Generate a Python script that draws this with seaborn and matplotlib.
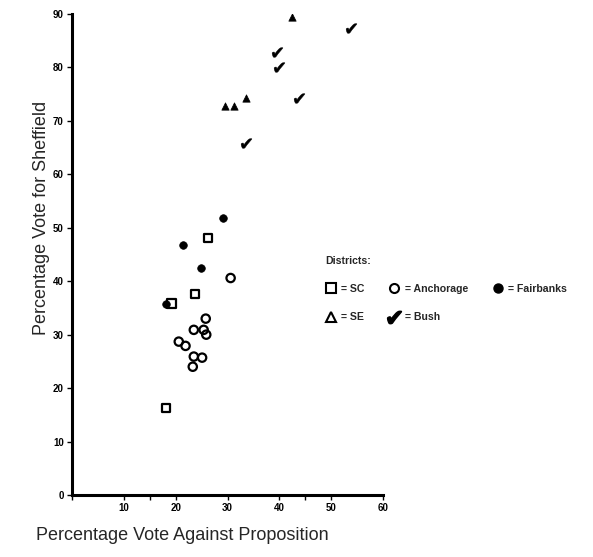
import numpy as np
import pandas as pd
import seaborn as sns
import matplotlib.pyplot as plt
from matplotlib.lines import Line2D

# values
sc_x = [26.2, 23.7, 19.2, 18.1]
sc_y = [48.1, 37.6, 35.8, 16.3]
anc_x = [30.6, 25.8, 23.5, 25.4, 25.9, 20.6, 21.9, 23.5, 25.1, 23.3]
anc_y = [40.6, 33.0, 30.9, 30.9, 30.0, 28.7, 27.9, 25.9, 25.7, 24.0]
fai_x = [29.2, 21.5, 24.8, 18.1]
fai_y = [51.9, 46.8, 42.5, 35.8]
se_x = [42.5, 29.6, 31.2, 33.5]
se_y = [89.5, 72.7, 72.7, 74.2]
bush_x = [53.8, 39.6, 40.0, 43.7, 33.5]
bush_y = [87.3, 82.8, 80.1, 74.2, 65.9]

x_ticks = [0, 10, 20, 30, 40, 50, 60]
y_ticks = [0, 10, 20, 30, 40, 50, 60, 70, 80, 90]

df = pd.concat([
    pd.DataFrame({'x': sc_x, 'y': sc_y, 'district': 'SC'}),
    pd.DataFrame({'x': anc_x, 'y': anc_y, 'district': 'Anchorage'}),
    pd.DataFrame({'x': fai_x, 'y': fai_y, 'district': 'Fairbanks'}),
    pd.DataFrame({'x': se_x, 'y': se_y, 'district': 'SE'}),
    pd.DataFrame({'x': bush_x, 'y': bush_y, 'district': 'Bush'}),
], ignore_index=True)

sns.set_style("white")
plt.rcParams['font.family'] = ['Liberation Sans', 'DejaVu Sans']

fig = plt.figure(figsize=(5.93, 5.57), dpi=100)
ax = fig.add_axes([0.1214, 0.1113, 0.5245, 0.8636])

check = '$\u2714$'
styles = {
    'SC': dict(marker='s', s=38, facecolors='none', edgecolor='black', linewidth=1.6),
    'Anchorage': dict(marker='o', s=36, facecolors='none', edgecolor='black', linewidth=1.6),
    'Fairbanks': dict(marker='o', s=30, color='black', edgecolor='black', linewidth=0.5),
    'SE': dict(marker='^', s=28, color='black', edgecolor='black', linewidth=0.5),
    'Bush': dict(marker=check, s=60, color='black', edgecolor='black', linewidth=0.3),
}
for name, kw in styles.items():
    sub = df[df['district'] == name]
    sns.scatterplot(data=sub, x='x', y='y', ax=ax, legend=False, **kw)

ax.set_xlim(0, 60)
ax.set_ylim(0, 90)
ax.set_xticks(x_ticks)
ax.set_xticklabels([''] + [str(t) for t in x_ticks[1:]])
ax.set_xticks([15, 45], minor=True)
ax.set_yticks(y_ticks)
ax.set_yticklabels([str(t) for t in y_ticks])
sns.despine(ax=ax)
for side in ['left', 'bottom']:
    ax.spines[side].set_linewidth(2.2)
    ax.spines[side].set_color('black')
ax.tick_params(axis='both', which='both', direction='out', length=3.5, width=1,
               labelsize=7, colors='black', pad=2.5, left=True, bottom=True)
for lab in ax.get_xticklabels() + ax.get_yticklabels():
    lab.set_fontweight('bold')

ax.set_xlabel('Percentage Vote Against Proposition', fontsize=13)
ax.set_ylabel('Percentage Vote for Sheffield', fontsize=13)
ax.xaxis.set_label_coords(0.354, -0.066)
ax.yaxis.set_label_coords(-0.071, 0.576)

handles = [
    Line2D([], [], ls='none', marker='s', ms=6.5, mfc='none', mec='black', mew=1.5),
    Line2D([], [], ls='none', marker='^', ms=6.5, mfc='none', mec='black', mew=1.5),
    Line2D([], [], ls='none', marker='o', ms=6.5, mfc='none', mec='black', mew=1.5),
    Line2D([], [], ls='none', marker=check, ms=10, color='black'),
    Line2D([], [], ls='none', marker='o', ms=6.5, color='black'),
]
labels = ['= SC', '= SE', '= Anchorage', '= Bush', '= Fairbanks']
leg = fig.legend(handles, labels, ncol=3, loc='upper left',
                 bbox_to_anchor=(316 / 593, 1 - 246 / 557), frameon=False,
                 title='Districts:', alignment='left', handlelength=1.0,
                 handletextpad=0.5, columnspacing=2.3, labelspacing=1.75,
                 prop={'size': 7.6, 'weight': 'bold'},
                 title_fontproperties={'size': 7.6, 'weight': 'bold'})

fig.savefig('out.png', dpi=100)
